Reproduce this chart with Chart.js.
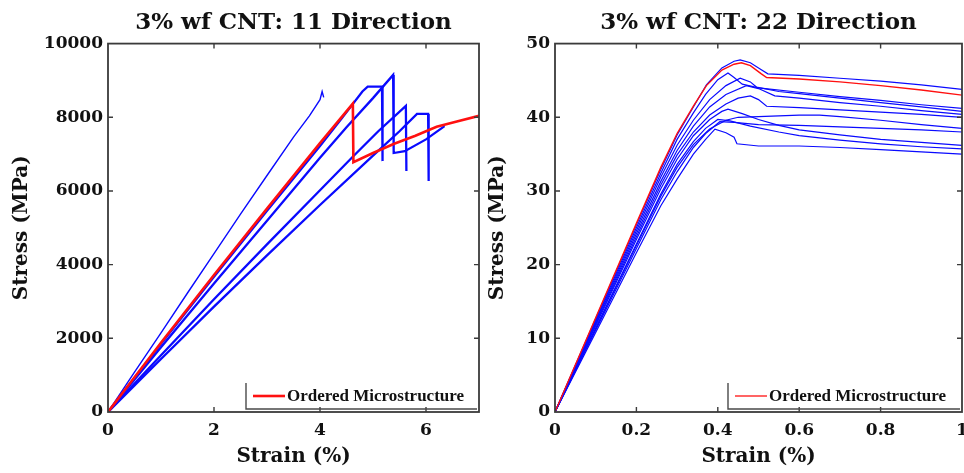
<!DOCTYPE html>
<html>
<head>
<meta charset="utf-8">
<script src="https://cdn.jsdelivr.net/npm/chart.js@4.4.0/dist/chart.umd.min.js"></script>
<style>
  html, body { margin: 0; padding: 0; background: #fff; }
  .panel { position: absolute; top: 0; width: 482px; height: 473px; }
  #panel11 { left: 0; }
  #panel22 { left: 482px; }
</style>
</head>
<body>
<div class="panel" id="panel11"><canvas id="chart11" width="482" height="473"></canvas></div>
<div class="panel" id="panel22"><canvas id="chart22" width="482" height="473"></canvas></div>
<script>
// ---- 11 direction: strain (%) / stress (MPa) ----
const ordered11Strain = [0, 1, 2, 3, 4, 4.62, 4.63, 5.0, 5.4, 5.8, 6.2, 6.6, 7.0];
const ordered11Stress = [0, 1880, 3720, 5520, 7300, 8370, 6780, 7030, 7280, 7500, 7740, 7890, 8040];

const thin11Strain = [0, 0.5, 1.0, 1.5, 2.0, 2.5, 3.0, 3.5, 3.8, 4.0, 4.04, 4.07];
const thin11Stress = [0, 1080, 2150, 3230, 4300, 5370, 6420, 7460, 8040, 8480, 8700, 8540];

const runA11Strain = [0, 1, 2, 3, 4, 4.4, 4.8, 4.9, 5.17, 5.18];
const runA11Stress = [0, 1850, 3670, 5460, 7220, 7950, 8700, 8830, 8830, 6810];

const runB11Strain = [0, 1, 2, 3, 4, 4.5, 5.0, 5.38, 5.39, 5.6, 6.0, 6.35];
const runB11Stress = [0, 1760, 3490, 5190, 6900, 7730, 8520, 9150, 7030, 7080, 7400, 7760];

const runC11Strain = [0, 1, 2, 3, 4, 4.6, 5.1, 5.62, 5.63];
const runC11Stress = [0, 1540, 3060, 4550, 6020, 6900, 7620, 8310, 6540];

const runD11Strain = [0, 1, 2, 3, 4, 5, 5.5, 5.83, 6.04, 6.05];
const runD11Stress = [0, 1440, 2860, 4250, 5620, 6960, 7620, 8090, 8090, 6270];

// ---- 22 direction ----
const ordered22Strain = [0, 0.1, 0.2, 0.26, 0.3, 0.34, 0.372, 0.41, 0.44, 0.458, 0.48, 0.507, 0.52, 0.6, 0.7, 0.8, 0.9, 1.0];
const ordered22Stress = [0, 12.8, 25.6, 33.2, 37.8, 41.5, 44.3, 46.4, 47.2, 47.4, 47.0, 45.9, 45.4, 45.2, 44.8, 44.3, 43.7, 43.0];

const runs22 = [
  { strain: [0, 0.1, 0.2, 0.26, 0.3, 0.34, 0.372, 0.41, 0.44, 0.455, 0.48, 0.503, 0.523, 0.6, 0.7, 0.8, 0.9, 1.0],
    stress: [0, 12.7, 25.4, 32.9, 37.6, 41.4, 44.4, 46.7, 47.6, 47.8, 47.4, 46.6, 45.9, 45.7, 45.3, 44.9, 44.4, 43.8] },
  { strain: [0, 0.1, 0.2, 0.26, 0.3, 0.34, 0.37, 0.4, 0.425, 0.44, 0.46, 0.5, 0.6, 0.7, 0.8, 0.9, 1.0],
    stress: [0, 12.5, 25.0, 32.4, 37.0, 40.6, 43.1, 45.1, 46.0, 45.4, 44.5, 44.0, 43.4, 42.8, 42.3, 41.7, 41.2] },
  { strain: [0, 0.1, 0.2, 0.26, 0.3, 0.34, 0.38, 0.42, 0.455, 0.48, 0.495, 0.55, 0.6, 0.7, 0.8, 0.9, 1.0],
    stress: [0, 12.3, 24.6, 31.9, 36.2, 39.6, 42.4, 44.3, 45.3, 44.8, 44.1, 43.5, 43.2, 42.6, 42.0, 41.4, 40.8] },
  { strain: [0, 0.1, 0.2, 0.26, 0.3, 0.34, 0.38, 0.42, 0.47, 0.5, 0.54, 0.6, 0.7, 0.8, 0.9, 1.0],
    stress: [0, 12.1, 24.2, 31.3, 35.5, 38.8, 41.4, 43.1, 44.3, 43.9, 42.9, 42.6, 42.0, 41.5, 40.9, 40.4] },
  { strain: [0, 0.1, 0.2, 0.26, 0.3, 0.34, 0.38, 0.42, 0.45, 0.48, 0.5, 0.52, 0.6, 0.7, 0.8, 0.9, 1.0],
    stress: [0, 11.9, 23.8, 30.8, 34.9, 38.0, 40.3, 41.8, 42.6, 42.9, 42.4, 41.5, 41.3, 41.0, 40.7, 40.4, 40.0] },
  { strain: [0, 0.1, 0.2, 0.26, 0.3, 0.34, 0.38, 0.41, 0.425, 0.46, 0.5, 0.55, 0.6, 0.7, 0.8, 0.9, 1.0],
    stress: [0, 11.7, 23.4, 30.3, 34.3, 37.5, 39.7, 40.8, 41.1, 40.5, 39.7, 38.9, 38.3, 37.6, 37.0, 36.6, 36.2] },
  { strain: [0, 0.1, 0.2, 0.26, 0.3, 0.34, 0.38, 0.42, 0.45, 0.5, 0.6, 0.65, 0.7, 0.8, 0.9, 1.0],
    stress: [0, 11.3, 22.6, 29.3, 33.2, 36.3, 38.4, 39.6, 40.0, 40.1, 40.3, 40.3, 40.1, 39.6, 39.0, 38.5] },
  { strain: [0, 0.1, 0.2, 0.26, 0.3, 0.34, 0.37, 0.4, 0.43, 0.48, 0.55, 0.6, 0.7, 0.8, 0.9, 1.0],
    stress: [0, 11.4, 22.8, 29.6, 33.6, 36.7, 38.5, 39.7, 39.5, 38.8, 38.0, 37.5, 36.9, 36.4, 36.0, 35.7] },
  { strain: [0, 0.1, 0.2, 0.26, 0.3, 0.34, 0.37, 0.405, 0.44, 0.5, 0.6, 0.7, 0.8, 0.9, 1.0],
    stress: [0, 11.1, 22.2, 28.8, 32.6, 35.9, 37.8, 39.4, 39.3, 39.0, 38.9, 38.7, 38.5, 38.3, 38.0] },
  { strain: [0, 0.1, 0.2, 0.26, 0.3, 0.34, 0.37, 0.393, 0.42, 0.44, 0.447, 0.5, 0.6, 0.7, 0.8, 0.9, 1.0],
    stress: [0, 10.8, 21.6, 28.0, 31.6, 35.0, 37.0, 38.4, 37.9, 37.3, 36.4, 36.1, 36.1, 35.9, 35.6, 35.3, 35.0] }
];

const strain11Ticks = [0, 2, 4, 6];
const stress11Ticks = [0, 2000, 4000, 6000, 8000, 10000];
const strain22Ticks = [0, 0.2, 0.4, 0.6, 0.8, 1];
const stress22Ticks = [0, 10, 20, 30, 40, 50];

const BLUE = '#0a0aff';
const RED = '#ff1010';
const AXIS = '#3a3a3a';
const TICK_FONT = { family: "'DejaVu Serif', serif", size: 17, weight: 'bold' };
const TITLE_FONT = { family: "'DejaVu Serif', serif", size: 23, weight: 'bold' };
const LABEL_FONT = { family: "'DejaVu Serif', serif", size: 20, weight: 'bold' };
const LEGEND_FONT = "bold 17px 'Liberation Serif', serif";

function toPoints(xs, ys) {
  return xs.map((x, i) => ({ x: x, y: ys[i] }));
}

function curve(xs, ys, color, width) {
  return {
    data: toPoints(xs, ys),
    showLine: true,
    borderColor: color,
    borderWidth: width,
    pointRadius: 0,
    tension: 0,
    fill: false
  };
}

// closed box with matlab-style inward ticks on all four sides
const boxTicks = {
  id: 'boxTicks',
  afterDatasetsDraw(chart) {
    const { ctx, chartArea: a, scales: { x, y } } = chart;
    ctx.save();
    ctx.strokeStyle = AXIS;
    ctx.lineWidth = 1.8;
    ctx.strokeRect(a.left, a.top, a.right - a.left, a.bottom - a.top);
    ctx.beginPath();
    x.ticks.forEach(t => {
      const px = x.getPixelForValue(t.value);
      if (px <= a.left + 1 || px >= a.right - 1) return;
      ctx.moveTo(px, a.bottom); ctx.lineTo(px, a.bottom - 5);
      ctx.moveTo(px, a.top); ctx.lineTo(px, a.top + 5);
    });
    y.ticks.forEach(t => {
      const py = y.getPixelForValue(t.value);
      if (py <= a.top + 1 || py >= a.bottom - 1) return;
      ctx.moveTo(a.left, py); ctx.lineTo(a.left + 5, py);
      ctx.moveTo(a.right, py); ctx.lineTo(a.right - 5, py);
    });
    ctx.lineWidth = 1.4;
    ctx.stroke();
    ctx.restore();
  }
};

// legend box in the lower right corner of the plot
const cornerLegend = {
  id: 'cornerLegend',
  afterDraw(chart, args, opts) {
    const { ctx, chartArea: a } = chart;
    const left = a.right - opts.boxWidth;
    const top = a.bottom - 29;
    const bottom = a.bottom - 3;
    ctx.save();
    ctx.strokeStyle = '#4a4a4a';
    ctx.lineWidth = 1.4;
    ctx.beginPath();
    ctx.moveTo(left, top);
    ctx.lineTo(left, bottom);
    ctx.lineTo(a.right - 2, bottom);
    ctx.stroke();
    const midY = top + 13;
    ctx.strokeStyle = RED;
    ctx.lineWidth = opts.lineWidth;
    ctx.beginPath();
    ctx.moveTo(left + 7, midY);
    ctx.lineTo(left + 39, midY);
    ctx.stroke();
    ctx.fillStyle = '#111';
    ctx.font = LEGEND_FONT;
    ctx.textBaseline = 'middle';
    ctx.fillText(opts.text, left + 41, midY + 1);
    ctx.restore();
  }
};

function buildChart(canvasId, cfg) {
  return new Chart(document.getElementById(canvasId), {
    type: 'scatter',
    data: { datasets: cfg.datasets },
    options: {
      responsive: false,
      animation: false,
      events: [],
      layout: { padding: { left: 0, right: cfg.padRight, top: 0, bottom: 0 } },
      plugins: {
        legend: { display: false },
        tooltip: { enabled: false },
        title: {
          display: true,
          text: cfg.title,
          color: '#111',
          font: TITLE_FONT,
          fullSize: false,
          padding: { top: 9, bottom: 7 }
        },
        cornerLegend: { text: 'Ordered Microstructure', boxWidth: cfg.legendWidth, lineWidth: cfg.legendLine }
      },
      scales: {
        x: {
          type: 'linear',
          min: cfg.xTicks[0],
          max: cfg.xMax,
          afterBuildTicks: s => { s.ticks = cfg.xTicks.map(v => ({ value: v })); },
          afterFit: s => { s.height = 61; s.paddingLeft = 0; s.paddingRight = 0; },
          grid: { display: false, drawTicks: false },
          border: { display: false },
          ticks: {
            color: '#111',
            font: TICK_FONT,
            padding: 8,
            maxRotation: 0,
            autoSkip: false,
            callback: v => String(+v.toFixed(1))
          },
          title: {
            display: true,
            text: 'Strain (%)',
            color: '#111',
            font: LABEL_FONT,
            padding: { top: 0, bottom: 4 }
          }
        },
        y: {
          type: 'linear',
          min: cfg.yTicks[0],
          max: cfg.yTicks[cfg.yTicks.length - 1],
          afterBuildTicks: s => { s.ticks = cfg.yTicks.map(v => ({ value: v })); },
          afterFit: s => { s.width = cfg.yWidth; s.paddingTop = 0; s.paddingBottom = 0; },
          grid: { display: false, drawTicks: false },
          border: { display: false },
          ticks: {
            color: '#111',
            font: TICK_FONT,
            padding: 5,
            autoSkip: false,
            callback: v => String(v)
          },
          title: {
            display: true,
            text: 'Stress (MPa)',
            color: '#111',
            font: LABEL_FONT,
            padding: { top: cfg.yTitlePad, bottom: 0 }
          }
        }
      }
    },
    plugins: [boxTicks, cornerLegend]
  });
}

const datasets11 = [
  curve(ordered11Strain, ordered11Stress, RED, 2.6),
  curve(thin11Strain, thin11Stress, BLUE, 1.4),
  curve(runA11Strain, runA11Stress, BLUE, 2.3),
  curve(runB11Strain, runB11Stress, BLUE, 2.3),
  curve(runC11Strain, runC11Stress, BLUE, 2.3),
  curve(runD11Strain, runD11Stress, BLUE, 2.3)
];

const datasets22 = [curve(ordered22Strain, ordered22Stress, RED, 1.4)]
  .concat(runs22.map(r => curve(r.strain, r.stress, BLUE, 1.2)));

buildChart('chart11', {
  title: '3% wf CNT: 11 Direction',
  datasets: datasets11,
  xTicks: strain11Ticks,
  xMax: 7,
  yTicks: stress11Ticks,
  yWidth: 108,
  yTitlePad: 10,
  padRight: 3,
  legendWidth: 233,
  legendLine: 2.6
});

buildChart('chart22', {
  title: '3% wf CNT: 22 Direction',
  datasets: datasets22,
  xTicks: strain22Ticks,
  xMax: 1,
  yTicks: stress22Ticks,
  yWidth: 73,
  yTitlePad: 4,
  padRight: 2,
  legendWidth: 234,
  legendLine: 1.3
});
</script>
</body>
</html>
